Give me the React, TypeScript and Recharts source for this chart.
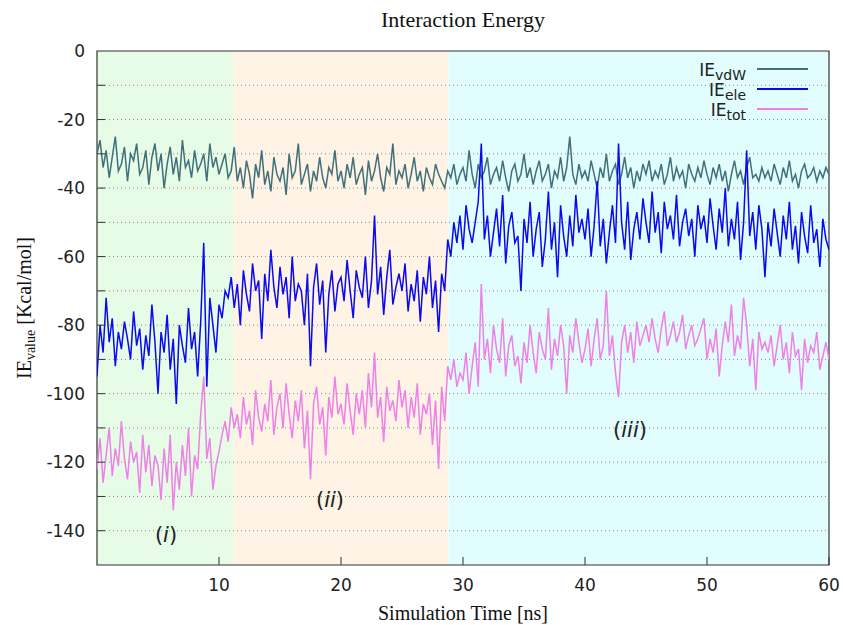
import { LineChart, Line, XAxis, YAxis, ReferenceArea, ReferenceLine } from 'recharts'

// sampled every 0.25 ns, 0 .. 60
const TIME_STEP = 0.25

const vdwValues = [
  -30, -26, -34, -29, -37, -31, -25, -35, -33, -28, -38, -30, -32, -27, -36, -34, -29, -39, -31, -27,
  -35, -30, -40, -33, -28, -36, -31, -38, -26, -34, -32, -37, -29, -35, -33, -30, -38, -27, -34, -31,
  -36, -33, -30, -37, -35, -28, -38, -34, -40, -32, -36, -43, -33, -37, -29, -39, -35, -41, -31, -36,
  -38, -34, -42, -30, -37, -35, -27, -39, -36, -33, -41, -35, -38, -31, -37, -40, -34, -36, -29, -38,
  -35, -40, -33, -37, -31, -39, -36, -34, -42, -32, -38, -35, -30, -37, -41, -34, -36, -27, -39, -35,
  -37, -33, -40, -36, -31, -38, -35, -41, -34, -37, -39, -33, -36, -38, -40, -35, -37, -33, -39, -36,
  -34, -38, -29, -36, -40, -33, -37, -35, -31, -39, -36, -34, -38, -32, -37, -41, -35, -33, -38, -36,
  -30, -37, -34, -39, -35, -32, -38, -36, -33, -40, -35, -37, -31, -38, -34, -25, -36, -39, -33, -37,
  -35, -38, -32, -36, -40, -34, -37, -30, -38, -35, -33, -39, -36, -31, -37, -34, -40, -35, -38, -33,
  -36, -32, -38, -35, -37, -33, -39, -36, -31, -38, -34, -37, -35, -40, -33, -36, -38, -34, -37, -32,
  -36, -39, -34, -37, -33, -38, -35, -41, -36, -32, -37, -35, -39, -34, -31, -37, -36, -38, -34, -37,
  -35, -38, -33, -36, -39, -34, -37, -32, -38, -36, -40, -35, -33, -37, -36, -34, -38, -35, -37, -34,
  -36,
]

const eleValues = [
  -95, -80, -88, -72, -85, -78, -92, -82, -87, -79, -84, -90, -76, -86, -81, -93, -83, -89, -74, -85,
  -100, -82, -88, -77, -93, -84, -103, -80, -86, -91, -75, -87, -82, -95, -79, -56, -98, -72, -80, -88,
  -74, -78, -70, -72, -66, -75, -68, -80, -64, -71, -76, -62, -70, -67, -84, -65, -73, -58, -69, -75,
  -63, -71, -66, -78, -60, -73, -68, -70, -80, -65, -92, -69, -62, -74, -67, -88, -71, -64, -76, -68,
  -66, -73, -61, -70, -78, -64, -69, -72, -60, -75, -67, -48, -71, -63, -77, -66, -58, -74, -69, -65,
  -70, -62, -76, -68, -73, -64, -79, -66, -71, -60, -75, -67, -82, -65, -70, -55, -60, -50, -56, -48,
  -58, -45, -52, -56, -50, -44, -27, -55, -48, -60, -53, -46, -57, -42, -62, -51, -47, -56, -54, -70,
  -49, -56, -44, -60, -52, -47, -63, -55, -41, -58, -50, -66, -45, -54, -60, -48, -57, -42, -53, -49,
  -55, -46, -60, -51, -38, -57, -49, -62, -53, -45, -56, -27, -50, -58, -44, -61, -52, -47, -55, -43,
  -50, -56, -41, -53, -47, -59, -44, -52, -48, -55, -42, -57, -50, -46, -54, -49, -60, -45, -52, -48,
  -56, -43, -51, -58, -46, -53, -40, -57, -49, -55, -44, -61, -50, -29, -54, -47, -58, -45, -52, -66,
  -50, -57, -46, -53, -60, -48, -55, -44, -58, -51, -62, -47, -54, -59, -45, -56, -52, -63, -49, -55,
  -58,
]

const totValues = [
  -122, -113, -126, -118, -110, -124, -116, -121, -108, -119, -125, -114, -120, -117, -129, -112, -123, -115, -127, -118,
  -121, -131, -116, -126, -112, -134, -120, -128, -115, -124, -110, -130, -118, -122, -106, -95, -119, -113, -128, -121,
  -117, -112, -108, -114, -104, -110, -106, -113, -101, -109, -105, -115, -99, -107, -111, -103, -108, -96, -112, -104,
  -100, -110, -97, -106, -113, -102, -108, -99, -116, -105, -125, -103, -98, -109, -104, -118, -101, -107, -95, -106,
  -103, -109, -97, -105, -112, -100, -106, -99, -110, -94, -104, -88, -107, -101, -114, -98, -105, -102, -108, -96,
  -104, -99, -110, -101, -107, -97, -112, -103, -106, -100, -115, -102, -122, -98, -108, -92, -96, -90, -98, -94,
  -96, -88, -100, -92, -85, -98, -68, -90, -84, -94, -80, -87, -91, -78, -95, -86, -83, -92, -89, -97,
  -85, -91, -80, -88, -94, -82, -87, -90, -75, -93, -84, -89, -80, -86, -100, -83, -88, -78, -85, -91,
  -87, -81, -92, -84, -78, -90, -86, -70, -89, -83, -94, -101, -85, -80, -88, -82, -91, -79, -86, -83,
  -80, -85, -78, -84, -88, -81, -76, -86, -83, -79, -85, -82, -77, -87, -83, -80, -86, -84, -81, -78,
  -90, -84, -88, -81, -95, -86, -79, -85, -74, -89, -83, -87, -72, -80, -92, -84, -99, -82, -87, -85,
  -88, -83, -92, -86, -80, -90, -85, -94, -82, -89, -87, -99, -84, -91, -86, -88, -82, -93, -89, -85,
  -90,
]

const xTicks = [10, 20, 30, 40, 50, 60]
const yTicks = [-150, -140, -130, -120, -110, -100, -90, -80, -70, -60, -50, -40, -30, -20, -10, 0]
const gridValues = [-140, -130, -120, -110, -100, -90, -80, -70, -60, -50, -40, -30, -20, -10]

// phase boundaries (ns)
const phases = [
  { from: 0, to: 11.15, fill: '#e6fce6', label: 'i' },
  { from: 11.15, to: 28.8, fill: '#fef3e4', label: 'ii' },
  { from: 28.8, to: 60, fill: '#e1fdfd', label: 'iii' },
]

const data = vdwValues.map((v, i) => ({
  t: i * TIME_STEP,
  vdw: v,
  ele: eleValues[i],
  tot: totValues[i],
}))

const VDW_COLOR = '#41707a'
const ELE_COLOR = '#0a0aee'
const TOT_COLOR = '#ee80e8'

const PLOT_TOP = 51
const PLOT_BOTTOM = 565
const PLOT_LEFT = 97
const PLOT_RIGHT = 829

const tickFont = '"DejaVu Sans", sans-serif'
const serif = '"Liberation Serif", "Times New Roman", serif'

function XTick({ x, payload }: any) {
  return (
    <g>
      <line x1={x} x2={x} y1={PLOT_BOTTOM} y2={PLOT_BOTTOM - 8} stroke="#333" strokeWidth={1} />
      <text x={x} y={591} textAnchor="middle" fontSize={17} fontFamily={tickFont} fill="#222">
        {payload.value}
      </text>
    </g>
  )
}

function YTick({ y, payload }: any) {
  const v = payload.value
  const showLabel = v % 20 === 0 && v !== -150
  return (
    <g>
      {v !== 0 && v !== -150 && (
        <line x1={PLOT_LEFT} x2={PLOT_LEFT + 8} y1={y} y2={y} stroke="#333" strokeWidth={1} />
      )}
      {showLabel && (
        <text x={85} y={y + 6} textAnchor="end" fontSize={17} fontFamily={tickFont} fill="#222">
          {v}
        </text>
      )}
    </g>
  )
}

const legendRows = [
  { main: 'IE', sub: 'vdW', color: VDW_COLOR, y: 69 },
  { main: 'IE', sub: 'ele', color: ELE_COLOR, y: 89 },
  { main: 'IE', sub: 'tot', color: TOT_COLOR, y: 109 },
]

const annotations = [
  { text: 'i', x: 166, y: 542 },
  { text: 'ii', x: 330, y: 507 },
  { text: 'iii', x: 630, y: 437 },
]

export default function App() {
  return (
    <div style={{ position: 'absolute', left: 0, top: 0, width: 843, height: 625, background: '#fff' }}>
      <LineChart
        width={843}
        height={625}
        data={data}
        margin={{ top: PLOT_TOP, right: 843 - PLOT_RIGHT, bottom: 0, left: PLOT_LEFT - 40 }}
      >
        <XAxis
          dataKey="t"
          type="number"
          domain={[0, 60]}
          ticks={xTicks}
          tick={<XTick />}
          tickLine={false}
          axisLine={false}
          height={625 - PLOT_BOTTOM}
          allowDataOverflow
        />
        <YAxis
          type="number"
          domain={[-150, 0]}
          ticks={yTicks}
          tick={<YTick />}
          tickLine={false}
          axisLine={false}
          width={40}
          interval={0}
          allowDataOverflow
        />
        {phases.map((p) => (
          <ReferenceArea key={p.label} x1={p.from} x2={p.to} y1={-150} y2={0} fill={p.fill} fillOpacity={1} stroke="none" />
        ))}
        {gridValues.map((g) => (
          <ReferenceLine key={g} y={g} stroke="#8a8a8a" strokeDasharray="1 3" strokeWidth={1} />
        ))}
        <Line type="linear" dataKey="vdw" stroke={VDW_COLOR} strokeWidth={1.5} dot={false} isAnimationActive={false} />
        <Line type="linear" dataKey="ele" stroke={ELE_COLOR} strokeWidth={1.5} dot={false} isAnimationActive={false} />
        <Line type="linear" dataKey="tot" stroke={TOT_COLOR} strokeWidth={1.5} dot={false} isAnimationActive={false} />
        <ReferenceArea x1={0} x2={60} y1={-150} y2={0} fill="none" fillOpacity={0} stroke="#333" strokeWidth={1.2} />
      </LineChart>

      <svg
        width={843}
        height={625}
        style={{ position: 'absolute', left: 0, top: 0, pointerEvents: 'none' }}
      >
        <text x={463} y={27} textAnchor="middle" fontSize={22} fontFamily={serif} fill="#111">
          Interaction Energy
        </text>
        <text x={463} y={620} textAnchor="middle" fontSize={20} fontFamily={serif} fill="#111">
          Simulation Time [ns]
        </text>
        <text transform="translate(31,308) rotate(-90)" textAnchor="middle" fontSize={20} fontFamily={serif} fill="#111">
          IE
          <tspan fontSize={14} dy={4}>value</tspan>
          <tspan dy={-4}> [Kcal/mol]</tspan>
        </text>

        {legendRows.map((r) => (
          <g key={r.sub}>
            <text x={746} y={r.y + 7} textAnchor="end" fontSize={17} fontFamily={tickFont} fill="#222">
              {r.main}
              <tspan fontSize={14} dy={4}>{r.sub}</tspan>
            </text>
            <line x1={757} x2={808} y1={r.y} y2={r.y} stroke={r.color} strokeWidth={2} />
          </g>
        ))}

        {annotations.map((a) => (
          <text key={a.text} x={a.x} y={a.y} textAnchor="middle" fontSize={21} fontFamily={tickFont} fill="#222">
            (<tspan fontStyle="italic">{a.text}</tspan>)
          </text>
        ))}
      </svg>
    </div>
  )
}
